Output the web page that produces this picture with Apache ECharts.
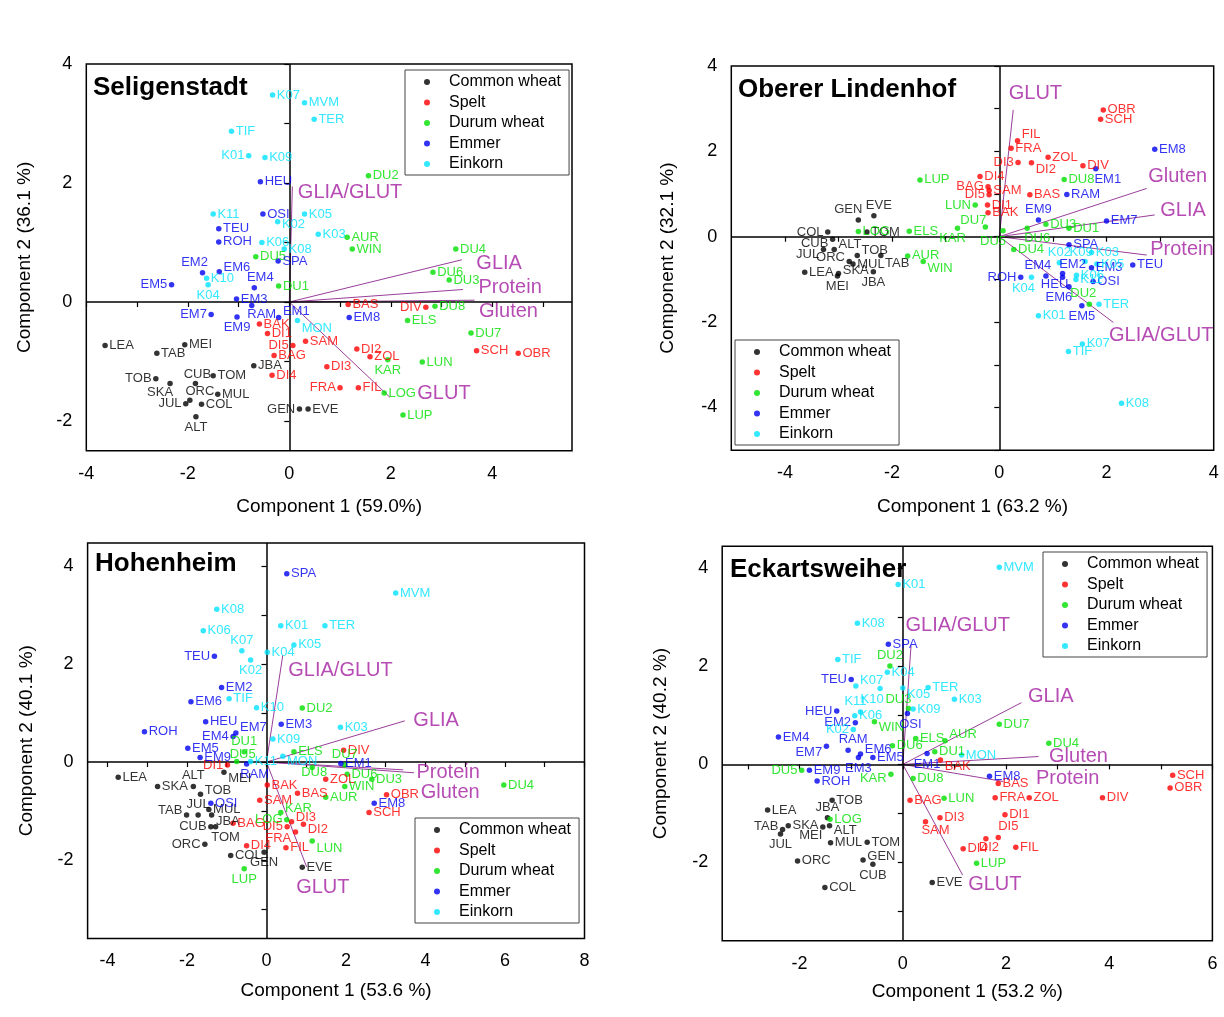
<!DOCTYPE html>
<html><head><meta charset="utf-8">
<script src="https://cdn.jsdelivr.net/npm/echarts@6/dist/echarts.min.js"></script>
<style>html,body{margin:0;padding:0;background:#fff}#c{width:1224px;height:1017px}</style>
</head><body><div id="c"></div><script>
// ---------------- DATA ----------------
const groups = ['Common wheat','Spelt','Durum wheat','Emmer','Einkorn'];
const vectorNames = ['GLIA/GLUT','GLIA','Protein','Gluten','GLUT'];

// Seligenstadt
const sel_common = [['LEA',-3.63,-0.73],['MEI',-2.06,-0.72],['TAB',-2.61,-0.86],['JBA',-0.70,-1.07],['TOB',-2.63,-1.29],['SKA',-2.35,-1.37],['CUB',-1.85,-1.37],['TOM',-1.50,-1.24],['ORC',-1.96,-1.65],['JUL',-2.04,-1.71],['MUL',-1.41,-1.55],['COL',-1.73,-1.72],['ALT',-1.84,-1.93],['GEN',0.20,-1.80],['EVE',0.37,-1.80]];
const sel_spelt = [['BAS',1.16,-0.04],['DIV',2.69,-0.09],['SAM',0.32,-0.66],['DI2',1.33,-0.79],['ZOL',1.59,-0.92],['SCH',3.69,-0.82],['OBR',4.51,-0.86],['DI3',0.74,-1.09],['FRA',1.00,-1.44],['FIL',1.36,-1.44],['BAK',-0.59,-0.37],['DI1',-0.43,-0.53],['DI5',0.07,-0.73],['BAG',-0.30,-0.90],['DI4',-0.34,-1.23]];
const sel_durum = [['DU5',-0.66,0.76],['DU1',-0.21,0.27],['DU2',1.56,2.12],['AUR',1.14,1.09],['WIN',1.24,0.89],['DU4',3.28,0.89],['DU6',2.83,0.50],['DU3',3.15,0.37],['DU8',2.87,-0.07],['ELS',2.33,-0.31],['DU7',3.58,-0.52],['KAR',1.94,-0.97],['LUN',2.62,-1.01],['LOG',1.87,-1.53],['LUP',2.24,-1.90]];
const sel_emmer = [['HEU',-0.57,2.02],['OSI',-0.52,1.48],['TEU',-1.39,1.23],['ROH',-1.39,1.01],['SPA',-0.22,0.69],['EM2',-1.71,0.49],['EM6',-1.38,0.51],['EM5',-2.32,0.29],['EM4',-0.69,0.24],['EM3',-1.04,0.05],['RAM',-0.74,-0.06],['EM1',-0.21,-0.26],['EM7',-1.54,-0.21],['EM9',-1.03,-0.25],['EM8',1.18,-0.26]];
const sel_einkorn = [['K07',-0.33,3.48],['MVM',0.30,3.35],['TER',0.49,3.07],['TIF',-1.14,2.87],['K01',-0.80,2.46],['K09',-0.48,2.43],['K11',-1.50,1.48],['K05',0.30,1.48],['K02',-0.23,1.35],['K03',0.57,1.14],['K06',-0.54,1.00],['K08',-0.10,0.89],['K10',-1.63,0.40],['K04',-1.60,0.29],['MON',0.16,-0.31]];
const sel_vectors = [[0.06,1.94],[3.40,0.71],[3.42,0.21],[3.65,0.03],[1.98,-1.60]];
const sel_xName = 'Component 1 (59.0%)', sel_yName = 'Component 2 (36.1 %)';
const sel_xLabels = [-4,-2,0,2,4], sel_xTicks = [-4,-3,-2,-1,0,1,2,3,4,5];
const sel_yLabels = [-2,0,2,4], sel_yTicks = [-2,-1,0,1,2,3,4];

// Oberer Lindenhof
const ol_common = [['EVE',-2.34,0.49],['GEN',-2.63,0.39],['COL',-3.20,0.11],['TOM',-2.47,0.11],['CUB',-3.11,-0.06],['ALT',-3.08,-0.30],['JUL',-3.28,-0.30],['TOB',-2.65,-0.44],['ORC',-2.80,-0.58],['MUL',-2.73,-0.64],['TAB',-2.21,-0.44],['LEA',-3.63,-0.83],['SKA',-3.00,-0.86],['MEI',-3.02,-0.92],['JBA',-2.35,-0.82]];
const ol_spelt = [['OBR',1.94,2.97],['SCH',1.89,2.75],['FIL',0.34,2.25],['FRA',0.22,2.07],['ZOL',0.91,1.86],['DI3',0.35,1.74],['DI2',0.60,1.73],['DIV',1.56,1.66],['BAS',0.57,0.98],['DI4',-0.36,1.41],['BAG',-0.21,1.17],['SAM',-0.19,1.08],['DI5',-0.19,0.98],['DI1',-0.22,0.74],['BAK',-0.21,0.56]];
const ol_durum = [['LUP',-1.48,1.33],['ELS',-1.68,0.13],['AUR',-1.71,-0.45],['WIN',-1.42,-0.58],['LUN',-0.45,0.74],['DU7',-0.26,0.23],['KAR',-0.78,0.20],['DU5',0.07,0.14],['DU4',0.27,-0.30],['DU6',0.52,0.20],['DU3',0.87,0.29],['DU1',1.30,0.20],['DU8',1.21,1.34],['DU2',1.68,-1.58],['LOG',-2.63,0.12]];
const ol_emmer = [['EM8',2.90,2.05],['EM1',1.80,1.59],['RAM',1.26,0.99],['EM9',0.73,0.39],['EM7',2.00,0.37],['SPA',1.30,-0.19],['TEU',2.49,-0.66],['EM3',1.72,-0.73],['EM2',1.18,-0.86],['HEU',1.18,-0.95],['EM4',0.87,-0.92],['ROH',0.40,-0.95],['EM6',1.30,-1.17],['OSI',1.75,-1.05],['EM5',1.54,-1.62]];
const ol_einkorn = [['K03',1.72,-0.37],['K05',1.82,-0.64],['K09',1.60,-0.58],['K02',1.12,-0.61],['K06',1.44,-0.90],['K11',1.43,-1.00],['K04',0.60,-0.95],['K01',0.73,-1.85],['TER',1.86,-1.58],['K07',1.55,-2.51],['TIF',1.29,-2.69],['K08',2.28,-3.90]];
const ol_vectors = [[2.13,-2.01],[2.90,0.51],[2.75,-0.43],[2.75,1.13],[0.26,2.97]];
const ol_xName = 'Component 1 (63.2 %)', ol_yName = 'Component 2 (32.1 %)';
const ol_xLabels = [-4,-2,0,2,4], ol_xTicks = [-4,-3,-2,-1,0,1,2,3,4];
const ol_yLabels = [-4,-2,0,2,4], ol_yTicks = [-5,-4,-3,-2,-1,0,1,2,3,4];

// Hohenheim
const hoh_common = [['LEA',-3.73,-0.31],['ALT',-1.84,-0.50],['MEI',-1.07,-0.21],['SKA',-2.74,-0.50],['TOB',-1.66,-0.66],['TAB',-2.01,-1.08],['JUL',-1.72,-1.08],['MUL',-1.45,-0.97],['JBA',-1.38,-1.08],['CUB',-1.40,-1.32],['TOM',-1.28,-1.32],['ORC',-1.55,-1.68],['COL',-0.90,-1.91],['GEN',-0.06,-1.84],['EVE',0.90,-2.15]];
const hoh_spelt = [['DIV',1.94,0.24],['DI1',-0.98,-0.06],['BAK',0.02,-0.47],['BAS',0.78,-0.64],['SAM',-0.17,-0.78],['ZOL',1.49,-0.35],['OBR',3.02,-0.67],['SCH',2.58,-1.03],['BAG',-0.84,-1.25],['DI3',0.63,-1.22],['DI5',0.52,-1.32],['DI2',0.93,-1.27],['FRA',0.73,-1.43],['FIL',0.49,-1.75],['DI4',-0.50,-1.71]];
const hoh_durum = [['DU2',0.90,1.10],['DU1',-0.56,0.21],['DU5',-0.75,0.01],['ELS',0.69,0.21],['DU7',1.97,-0.06],['DU8',1.15,-0.11],['DU6',2.03,-0.25],['WIN',1.97,-0.50],['DU3',2.65,-0.35],['AUR',1.49,-0.72],['DU4',5.97,-0.47],['KAR',0.36,-1.03],['LOG',0.51,-1.18],['LUN',1.15,-1.61],['LUP',-0.56,-2.18]];
const hoh_emmer = [['SPA',0.51,3.84],['TEU',-1.31,2.16],['EM2',-1.13,1.52],['EM6',-1.90,1.23],['HEU',-1.53,0.82],['EM7',-0.77,0.59],['EM4',-0.84,0.52],['ROH',-3.07,0.62],['EM3',0.37,0.77],['EM5',-1.98,0.28],['EM9',-1.67,0.09],['RAM',-0.50,-0.04],['OSI',-1.40,-0.84],['EM1',1.87,-0.03],['EM8',2.71,-0.84]];
const hoh_einkorn = [['K08',-1.25,3.12],['K06',-1.59,2.68],['K01',0.36,2.78],['TER',1.47,2.78],['K07',-0.62,2.27],['K04',0.02,2.24],['K05',0.69,2.39],['K02',-0.40,2.08],['TIF',-0.94,1.29],['K10',-0.25,1.11],['K09',0.16,0.47],['K03',1.86,0.71],['MVM',3.25,3.45],['MON',0.41,0.12],['K11',-0.40,0.01]];
const hoh_vectors = [[0.41,2.18],[3.48,0.84],[3.71,-0.22],[3.44,-0.16],[1.01,-2.14]];
const hoh_xName = 'Component 1 (53.6 %)', hoh_yName = 'Component 2 (40.1 %)';
const hoh_xLabels = [-4,-2,0,2,4,6,8], hoh_xTicks = [-4,-3,-2,-1,0,1,2,3,4,5,6,7,8];
const hoh_yLabels = [-2,0,2,4], hoh_yTicks = [-3,-2,-1,0,1,2,3,4];

// Eckartsweiher
const eck_common = [['TOB',-1.37,-0.73],['LEA',-2.62,-0.93],['JBA',-1.46,-1.09],['ALT',-1.42,-1.25],['SKA',-2.22,-1.25],['MEI',-1.55,-1.28],['JUL',-2.37,-1.42],['TAB',-2.33,-1.33],['MUL',-1.40,-1.60],['TOM',-0.69,-1.59],['ORC',-2.04,-1.97],['GEN',-0.77,-1.95],['CUB',-0.58,-2.04],['EVE',0.57,-2.41],['COL',-1.51,-2.51]];
const eck_spelt = [['BAK',0.73,0.09],['BAS',1.85,-0.39],['BAG',0.14,-0.73],['FRA',1.79,-0.68],['ZOL',2.45,-0.68],['DIV',3.87,-0.68],['SCH',5.23,-0.22],['OBR',5.18,-0.48],['DI1',1.98,-1.03],['DI3',0.72,-1.09],['SAM',0.44,-1.17],['DI5',1.85,-1.49],['DI2',1.61,-1.52],['FIL',2.19,-1.69],['DI4',1.17,-1.72]];
const eck_durum = [['DU2',-0.25,2.01],['DU3',0.11,1.14],['WIN',-0.55,0.87],['ELS',0.25,0.53],['AUR',0.82,0.48],['DU6',-0.20,0.38],['DU1',0.62,0.26],['DU7',1.87,0.82],['DU4',2.83,0.43],['DU5',-1.96,-0.12],['KAR',-0.23,-0.20],['DU8',0.20,-0.29],['LUN',0.80,-0.69],['LOG',-1.41,-1.12],['LUP',1.43,-2.02]];
const eck_emmer = [['SPA',-0.28,2.45],['TEU',-1.00,1.73],['HEU',-1.28,1.09],['EM2',-0.92,0.85],['OSI',0.09,1.04],['EM4',-2.41,0.56],['EM7',-1.48,0.37],['RAM',-1.06,0.29],['EM6',-0.82,0.21],['EM3',-0.86,0.14],['EM5',-0.58,0.14],['EM1',0.47,0.22],['EM9',-1.81,-0.12],['ROH',-1.66,-0.34],['EM8',1.68,-0.24]];
const eck_einkorn = [['K01',-0.09,3.67],['K08',-0.88,2.88],['TIF',-1.26,2.14],['K04',-0.30,1.88],['K07',-0.91,1.60],['K10',-0.44,1.55],['K05',0.00,1.56],['TER',0.49,1.57],['K03',1.00,1.33],['K09',0.20,1.13],['K11',-0.82,1.07],['K06',-0.93,0.99],['K02',-0.96,0.71],['MVM',1.87,4.02],['MON',1.14,0.19]];
const eck_vectors = [[0.16,2.43],[2.30,1.26],[1.95,-0.35],[2.63,0.16],[1.16,-2.26]];
const eck_xName = 'Component 1 (53.2 %)', eck_yName = 'Component 2 (40.2 %)';
const eck_xLabels = [-2,0,2,4,6], eck_xTicks = [-3,-2,-1,0,1,2,3,4,5,6];
const eck_yLabels = [-2,0,2,4], eck_yTicks = [-3,-2,-1,0,1,2,3,4];

// ---------------- STYLE / LAYOUT ----------------
const colors = ['#000000','#ff0000','#00e000','#0000f0','#00e2ff'];
const vecColor = '#a21ea0', vecLine = '#9a3e9a';
const font = '"Liberation Sans", Arial, Helvetica, sans-serif';

// label placement overrides (default: right of the dot)
const selPlaces = {K01:['left'],K04:['bottom'],EM5:['left'],EM2:['top',[-8,0]],EM4:['top',[6,0]],EM7:['left'],EM9:['bottom'],RAM:['bottom',[10,-2]],EM1:['right',[0,-6]],MON:['right',[0,8]],DI5:['left'],FRA:['left'],TOB:['left'],SKA:['bottom',[-10,-2]],CUB:['top',[2,2]],ORC:['top',[10,2]],JUL:['left'],ALT:['bottom'],GEN:['left'],KAR:['bottom'],DIV:['left'],K02:['right',[0,3]],EM6:['right',[0,-4]]};
const olPlaces = {GEN:['top',[-10,0]],EVE:['top',[5,0]],COL:['left'],CUB:['left',[0,4]],ALT:['right',[0,-5]],JUL:['left',[0,5]],TOB:['right',[0,-5]],ORC:['left',[0,-4]],TAB:['right',[0,8]],SKA:['right',[0,-3]],MEI:['bottom'],JBA:['bottom'],LUN:['left'],DU7:['top',[-12,4]],KAR:['bottom',[-5,0]],WIN:['right',[0,7]],DU5:['bottom',[-10,0]],DU6:['bottom',[10,0]],BAG:['left'],DI5:['left'],DI3:['left'],DI2:['right',[0,7]],FIL:['right',[0,-6]],EM1:['bottom',[12,0]],EM9:['top'],EM4:['top',[-8,0]],ROH:['left'],EM6:['bottom',[-10,0]],EM5:['bottom'],HEU:['bottom',[-8,-4]],EM2:['top',[10,2]],K04:['bottom',[-8,0]],K02:['top'],K09:['top',[-4,2]],DU2:['top',[-6,0]]};
const hohPlaces = {K07:['top'],K02:['bottom'],TEU:['left'],EM4:['left'],EM7:['right',[0,-6]],DU1:['top'],DU5:['top',[6,4]],DI1:['left'],RAM:['bottom',[8,0]],ALT:['top'],MEI:['right',[0,6]],TOB:['right',[0,-4]],TAB:['left',[0,-5]],JUL:['top'],JBA:['right',[0,6]],CUB:['left'],TOM:['bottom',[10,0]],ORC:['left'],GEN:['bottom'],LUP:['bottom'],LOG:['left'],LUN:['right',[0,8]],DU8:['bottom',[2,-6]],DU7:['top'],FRA:['left',[0,6]],DI2:['right',[0,5]],DI3:['right',[0,-4]],DI5:['left'],KAR:['right',[0,-4]],MON:['right',[0,5]]};
const eckPlaces = {TEU:['left'],HEU:['left'],EM2:['left'],K02:['left'],K10:['bottom',[-8,0]],K07:['right',[0,-6]],DU2:['top'],OSI:['bottom',[3,0]],DU3:['top',[-10,2]],K11:['top',[-5,0]],WIN:['right',[0,6]],EM7:['left',[0,6]],RAM:['top',[5,0]],EM3:['bottom'],EM1:['bottom'],AUR:['right',[0,-6]],BAK:['right',[0,6]],DU5:['left'],KAR:['left',[0,4]],JBA:['top'],ALT:['right',[0,5]],TAB:['left',[0,-3]],MEI:['bottom',[-12,-2]],JUL:['bottom'],GEN:['right',[0,-4]],CUB:['bottom'],SAM:['bottom',[10,-2]],DI5:['top',[10,0]],DI2:['bottom',[3,-2]],K05:['right',[0,6]],EM6:['right',[0,-5]]};

const panels = [
  {name:'Seligenstadt', data:[sel_common,sel_spelt,sel_durum,sel_emmer,sel_einkorn], vec:sel_vectors, places:selPlaces,
   vplaces:[[5,6],[14,4],[15,-2],[4,11],[27,-4]],
   grid:{left:86.3,top:64,width:485.7,height:386.75}, x:[-4,5.57], y:[-2.5,4],
   xl:sel_xLabels, xt:sel_xTicks, yl:sel_yLabels, yt:sel_yTicks, xn:sel_xName, yn:sel_yName, xGap:47, yGap:52,
   title:{left:93,top:75}, legend:{left:405,top:70}},
  {name:'Oberer Lindenhof', data:[ol_common,ol_spelt,ol_durum,ol_emmer,ol_einkorn], vec:ol_vectors, places:olPlaces,
   vplaces:[[-5,13],[5,-4],[3,-6],[1,-12],[-5,-16]],
   grid:{left:731.3,top:65.9,width:482.4,height:384.3}, x:[-5,4], y:[-5,4],
   xl:ol_xLabels, xt:ol_xTicks, yl:ol_yLabels, yt:ol_yTicks, xn:ol_xName, yn:ol_yName, xGap:47, yGap:54,
   title:{left:738,top:77}, legend:{left:735,top:340}},
  {name:'Hohenheim', data:[hoh_common,hoh_spelt,hoh_durum,hoh_emmer,hoh_einkorn], vec:hoh_vectors, places:hohPlaces,
   vplaces:[[5,15],[8,0],[2,0],[17,23],[-11,21]],
   grid:{left:87.6,top:543,width:496.9,height:395.4}, x:[-4.5,8], y:[-3.6,4.47],
   xl:hoh_xLabels, xt:hoh_xTicks, yl:hoh_yLabels, yt:hoh_yTicks, xn:hoh_xName, yn:hoh_yName, xGap:43, yGap:51,
   title:{left:95,top:551}, legend:{left:415,top:818}},
  {name:'Eckartsweiher', data:[eck_common,eck_spelt,eck_durum,eck_emmer,eck_einkorn], vec:eck_vectors, places:eckPlaces,
   vplaces:[[-6,-20],[6,-6],[32,-3],[10,0],[5,9]],
   grid:{left:722.2,top:546.3,width:490.2,height:394.5}, x:[-3.5,6], y:[-3.6,4.45],
   xl:eck_xLabels, xt:eck_xTicks, yl:eck_yLabels, yt:eck_yTicks, xn:eck_xName, yn:eck_yName, xGap:41, yGap:52,
   title:{left:730,top:557}, legend:{left:1043,top:552}}
];

const axisTextStyle = {fontSize:18, fontFamily:font, color:'#000'};
const nameStyle = {fontSize:19, fontFamily:font, color:'#000'};

const option = {
  animation:false,
  backgroundColor:'#fff',
  title: panels.map(p => ({text:p.name, left:p.title.left, top:p.title.top, padding:0,
    textStyle:{fontSize:26, fontWeight:'bold', fontFamily:font, color:'#000'}})),
  legend: panels.map(p => ({data:groups, orient:'vertical', left:p.legend.left, top:p.legend.top,
    icon:'circle', itemWidth:6, itemHeight:6, itemGap:4.5, padding:[4,8,3,19],
    borderColor:'#444', borderWidth:1, backgroundColor:'#fff', selectedMode:false,
    textStyle:{fontSize:16, fontFamily:font, color:'#000', padding:[0,0,0,14], lineHeight:16}})),
  grid: panels.map(p => Object.assign({show:true, borderColor:'#000', borderWidth:1.5, backgroundColor:'transparent'}, p.grid)),
  xAxis: panels.map((p,i) => ({type:'value', gridIndex:i, min:p.x[0], max:p.x[1],
    name:p.xn, nameLocation:'middle', nameGap:p.xGap, nameTextStyle:nameStyle,
    axisLine:{show:false}, splitLine:{show:false},
    axisTick:{show:true, inside:false, length:5, lineStyle:{color:'#000', width:1.2}, customValues:p.xt},
    axisLabel:Object.assign({show:true, margin:14, customValues:p.xl}, axisTextStyle)})),
  yAxis: panels.map((p,i) => ({type:'value', gridIndex:i, min:p.y[0], max:p.y[1],
    name:p.yn, nameLocation:'middle', nameGap:p.yGap, nameTextStyle:nameStyle,
    axisLine:{show:false}, splitLine:{show:false},
    axisTick:{show:true, inside:false, length:5, lineStyle:{color:'#000', width:1.2}, customValues:p.yt},
    axisLabel:Object.assign({show:true, margin:14, customValues:p.yl}, axisTextStyle)})),
  series: []
};

panels.forEach((p,i) => {
  // zero lines
  option.series.push({type:'scatter', xAxisIndex:i, yAxisIndex:i, data:[], silent:true,
    markLine:{silent:true, symbol:'none', animation:false, label:{show:false},
      lineStyle:{color:'#000', type:'solid', width:1.5}, data:[{xAxis:0},{yAxis:0}]}});
  // loading vectors
  p.vec.forEach((v,k) => {
    option.series.push({type:'line', xAxisIndex:i, yAxisIndex:i, data:[[0,0],v], symbol:'none', silent:true,
      lineStyle:{color:vecLine, width:1}, z:3});
  });
  option.series.push({type:'scatter', xAxisIndex:i, yAxisIndex:i, symbolSize:1, silent:true, z:4,
    itemStyle:{color:'transparent'},
    data:p.vec.map((v,k) => ({value:v, name:vectorNames[k], label:{offset:p.vplaces[k]}})),
    label:{show:true, position:'right', distance:0, formatter:'{b}', fontSize:20, fontFamily:font, color:vecColor}});
  // genotypes
  groups.forEach((g,gi) => {
    option.series.push({type:'scatter', name:g, xAxisIndex:i, yAxisIndex:i, symbolSize:5.5, z:5,
      itemStyle:{color:colors[gi]},
      label:{show:true, position:'right', distance:1.5, formatter:'{b}', fontSize:13, fontFamily:font, color:colors[gi]},
      data:p.data[gi].map(([n,x,y]) => {
        const d = {name:n, value:[x,y]};
        const pl = p.places[n];
        if (pl) d.label = {position:pl[0], offset:pl[1] || [0,0]};
        return d;
      })});
  });
});

const chart = echarts.init(document.getElementById('c'), null, {renderer:'canvas'});
chart.setOption(option);
</script></body></html>
